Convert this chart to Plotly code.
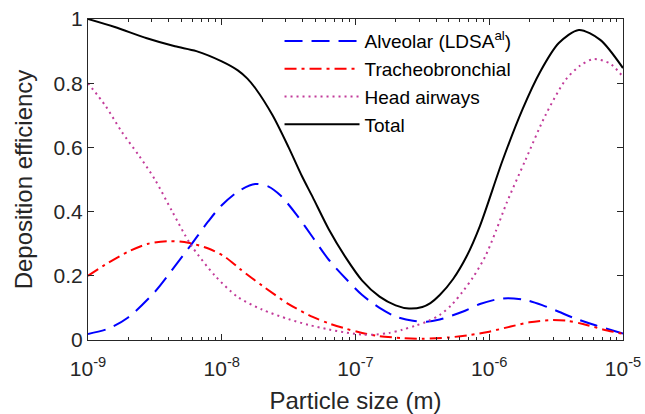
import plotly.graph_objects as go

# log10 particle size (m) and deposition efficiency
total_logd = [-9.0, -8.8, -8.56, -8.35, -8.19, -8.0, -7.88, -7.81, -7.75, -7.62, -7.5, -7.4, -7.32, -7.2, -7.07, -6.95, -6.82, -6.7, -6.6, -6.5, -6.44, -6.37, -6.27, -6.17, -6.07, -5.9, -5.75, -5.62, -5.48, -5.33, -5.17, -5.0]
total_eff = [1.0, 0.975, 0.94, 0.915, 0.90, 0.868, 0.84, 0.815, 0.785, 0.70, 0.60, 0.51, 0.445, 0.345, 0.255, 0.185, 0.135, 0.108, 0.098, 0.103, 0.115, 0.14, 0.19, 0.26, 0.355, 0.56, 0.72, 0.835, 0.925, 0.966, 0.935, 0.847]

alv_logd = [-9.0, -8.85, -8.7, -8.5, -8.35, -8.23, -8.1, -8.0, -7.87, -7.75, -7.65, -7.56, -7.44, -7.32, -7.2, -7.07, -6.95, -6.82, -6.7, -6.57, -6.47, -6.37, -6.2, -6.07, -5.95, -5.86, -5.72, -5.6, -5.48, -5.37, -5.2, -5.0]
alv_eff = [0.019, 0.035, 0.07, 0.15, 0.23, 0.296, 0.37, 0.42, 0.465, 0.486, 0.478, 0.45, 0.39, 0.32, 0.25, 0.19, 0.14, 0.10, 0.073, 0.06, 0.057, 0.064, 0.088, 0.112, 0.126, 0.13, 0.124, 0.108, 0.088, 0.069, 0.045, 0.02]

tb_logd = [-9.0, -8.85, -8.7, -8.55, -8.39, -8.25, -8.1, -7.98, -7.86, -7.7, -7.5, -7.32, -7.2, -7.07, -6.95, -6.82, -6.65, -6.5, -6.3, -6.14, -6.0, -5.84, -5.7, -5.55, -5.42, -5.3, -5.15, -5.0]
tb_eff = [0.2, 0.24, 0.275, 0.30, 0.308, 0.303, 0.285, 0.26, 0.22, 0.17, 0.112, 0.072, 0.052, 0.035, 0.022, 0.012, 0.006, 0.004, 0.008, 0.016, 0.026, 0.042, 0.055, 0.062, 0.06, 0.05, 0.033, 0.019]

head_logd = [-9.0, -8.87, -8.75, -8.62, -8.5, -8.37, -8.23, -8.05, -7.88, -7.7, -7.5, -7.35, -7.2, -7.07, -6.95, -6.85, -6.75, -6.65, -6.55, -6.45, -6.37, -6.28, -6.2, -6.12, -6.03, -5.95, -5.87, -5.73, -5.58, -5.43, -5.32, -5.22, -5.1, -5.0]
head_eff = [0.80, 0.73, 0.65, 0.575, 0.50, 0.40, 0.296, 0.20, 0.134, 0.095, 0.065, 0.047, 0.033, 0.023, 0.017, 0.017, 0.022, 0.032, 0.045, 0.06, 0.078, 0.11, 0.15, 0.196, 0.26, 0.34, 0.427, 0.56, 0.70, 0.81, 0.855, 0.875, 0.862, 0.82]

x_tickvals = [1e-9, 1e-8, 1e-7, 1e-6, 1e-5]
x_ticktext = ["10<sup>-9</sup>", "10<sup>-8</sup>", "10<sup>-7</sup>", "10<sup>-6</sup>", "10<sup>-5</sup>"]
x_minor_mult = [2, 3, 4, 5, 6, 7, 8, 9]
y_tickvals = [0, 0.2, 0.4, 0.6, 0.8, 1]
y_ticktext = ["0", "0.2", "0.4", "0.6", "0.8", "1"]

def tolin(v):
    return [10 ** a for a in v]

minor_vals = [m * d for d in x_tickvals[:-1] for m in x_minor_mult]

fig = go.Figure()
fig.add_trace(go.Scatter(x=tolin(alv_logd), y=alv_eff, mode="lines", name="Alveolar (LDSA<sup>al</sup>)",
                         line=dict(color="#0000FF", width=2, dash="18px,9px", shape="spline", smoothing=0.8)))
fig.add_trace(go.Scatter(x=tolin(tb_logd), y=tb_eff, mode="lines", name="Tracheobronchial",
                         line=dict(color="#FF0000", width=2, dash="12px,5px,3px,5px", shape="spline", smoothing=0.8)))
fig.add_trace(go.Scatter(x=tolin(head_logd), y=head_eff, mode="lines", name="Head airways",
                         line=dict(color="#C23B9A", width=2, dash="2px,4px", shape="spline", smoothing=0.8)))
fig.add_trace(go.Scatter(x=tolin(total_logd), y=total_eff, mode="lines", name="Total",
                         line=dict(color="#000000", width=2, shape="spline", smoothing=0.8)))

FONT = "Liberation Sans, Arial, Helvetica, sans-serif"
axis_font = dict(family=FONT, size=21, color="#262626")

fig.update_layout(
    width=645, height=414,
    margin=dict(l=88, r=22, t=19, b=74, autoexpand=False),
    paper_bgcolor="white", plot_bgcolor="white",
    font=dict(family=FONT, size=20, color="#262626"),
    showlegend=True,
    legend=dict(x=0.358, y=0.99, xanchor="left", yanchor="top", bgcolor="rgba(0,0,0,0)",
                font=dict(family=FONT, size=19, color="#000000"), itemwidth=75, tracegroupgap=0),
    xaxis=dict(type="log", range=[-9, -5], tickvals=x_tickvals, ticktext=x_ticktext, automargin=False,
               ticks="inside", ticklen=6, tickcolor="#262626", showgrid=False, zeroline=False,
               showline=True, linecolor="#262626", linewidth=1, mirror="allticks",
               minor=dict(tickvals=minor_vals, ticks="inside", ticklen=3, tickcolor="#262626", showgrid=False),
               tickfont=axis_font, ticklabelstandoff=10,
               title=dict(text="Particle size (m)", font=dict(family=FONT, size=24, color="#262626"), standoff=12)),
    yaxis=dict(range=[0, 1], tickvals=y_tickvals, ticktext=y_ticktext, automargin=False,
               ticks="inside", ticklen=6, tickcolor="#262626", showgrid=False, zeroline=False,
               showline=True, linecolor="#262626", linewidth=1, mirror="allticks",
               tickfont=axis_font,
               title=dict(text="Deposition efficiency", font=dict(family=FONT, size=24, color="#262626"), standoff=14)),
)

fig.write_html("out.html")
